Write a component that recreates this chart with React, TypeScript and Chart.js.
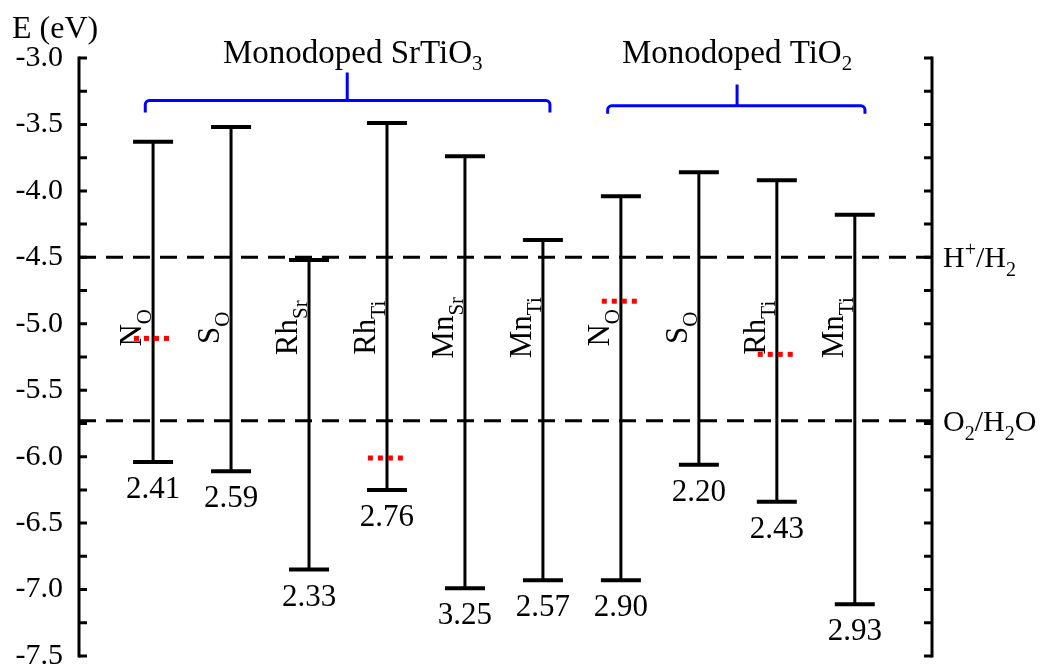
import { useEffect, useRef } from 'react';
import { Chart, registerables } from 'chart.js';

Chart.register(...registerables);

// ---------- data ----------
const categoryMain = ['N', 'S', 'Rh', 'Rh', 'Mn', 'Mn', 'N', 'S', 'Rh', 'Mn'];
const categorySub = ['O', 'O', 'Sr', 'Ti', 'Sr', 'Ti', 'O', 'O', 'Ti', 'Ti'];
const cbm = [-3.63, -3.52, -4.52, -3.49, -3.74, -4.37, -4.04, -3.86, -3.92, -4.18];
const vbm = [-6.04, -6.11, -6.85, -6.25, -6.99, -6.93, -6.93, -6.06, -6.34, -7.11];
const gapLabels = ['2.41', '2.59', '2.33', '2.76', '3.25', '2.57', '2.90', '2.20', '2.43', '2.93'];

const defectIndex = [0, 3, 6, 8];
const defectLevel = [-5.11, -6.01, -4.83, -5.23];

const redoxLevels = [-4.5, -5.73];
const redoxLabels = [
  [{ t: 'H', s: 30 }, { t: '+', s: 20, dy: -11 }, { t: '/H', s: 30 }, { t: '2', s: 20, dy: 9 }],
  [{ t: 'O', s: 30 }, { t: '2', s: 20, dy: 9 }, { t: '/H', s: 30 }, { t: '2', s: 20, dy: 9 }, { t: 'O', s: 30 }],
];

const groupTitles = [
  [{ t: 'Monodoped SrTiO', s: 33 }, { t: '3', s: 21, dy: 7 }],
  [{ t: 'Monodoped TiO', s: 33 }, { t: '2', s: 21, dy: 7 }],
];
const groupTitleX = [2.56, 7.49];
const groupTitleY = -3.04;
const braceFrom = [-0.1, 5.83];
const braceTo = [5.09, 9.13];
const braceMid = [2.49, 7.49];
const braceLevel = [-3.32, -3.36];
const braceEnd = [-3.41, -3.42];
const braceTop = [-3.11, -3.2];

const yMin = -7.5;
const yMax = -3.0;
const yStep = 0.5;
const yMinorStep = 0.25;
const xMin = -0.95;
const xMax = 9.99;
const labelCenterLevel = -5.03;

const FONT = '"Liberation Serif", "Times New Roman", serif';

type Part = { t: string; s: number; dy?: number };

function drawRich(ctx: CanvasRenderingContext2D, parts: Part[], x: number, y: number, align: string) {
  let total = 0;
  for (const p of parts) {
    ctx.font = `${p.s}px ${FONT}`;
    total += ctx.measureText(p.t).width;
  }
  let cx = align === 'center' ? x - total / 2 : align === 'right' ? x - total : x;
  ctx.textAlign = 'left';
  ctx.textBaseline = 'alphabetic';
  for (const p of parts) {
    ctx.font = `${p.s}px ${FONT}`;
    ctx.fillText(p.t, cx, y + (p.dy || 0));
    cx += ctx.measureText(p.t).width;
  }
}

const decorPlugin = {
  id: 'decor',
  afterDraw(chart: any) {
    const ctx: CanvasRenderingContext2D = chart.ctx;
    const xs = chart.scales.x;
    const ys = chart.scales.y;
    const area = chart.chartArea;
    ctx.save();
    ctx.fillStyle = '#000';
    ctx.strokeStyle = '#000';

    // axes lines
    ctx.lineWidth = 3;
    ctx.beginPath();
    ctx.moveTo(area.left, area.top - 1.5);
    ctx.lineTo(area.left, area.bottom + 1.5);
    ctx.moveTo(area.right, area.top - 1.5);
    ctx.lineTo(area.right, area.bottom + 1.5);
    ctx.stroke();
    // inward ticks
    const n = Math.round((yMax - yMin) / yMinorStep);
    ctx.beginPath();
    for (let i = 0; i <= n; i++) {
      const py = ys.getPixelForValue(yMin + i * yMinorStep);
      ctx.moveTo(area.left, py);
      ctx.lineTo(area.left + 8, py);
      ctx.moveTo(area.right, py);
      ctx.lineTo(area.right - 8, py);
    }
    ctx.stroke();

    // axis title
    drawRich(ctx, [{ t: 'E (eV)', s: 32 }], 12, 38, 'left');

    // vertical category labels
    for (let i = 0; i < categoryMain.length; i++) {
      const px = xs.getPixelForValue(i);
      const py = ys.getPixelForValue(labelCenterLevel);
      ctx.save();
      ctx.translate(px - 12, py);
      ctx.rotate(-Math.PI / 2);
      drawRich(ctx, [{ t: categoryMain[i], s: 31 }, { t: categorySub[i], s: 21, dy: 10 }], 0, 0, 'center');
      ctx.restore();
    }

    // gap values
    for (let i = 0; i < gapLabels.length; i++) {
      const px = xs.getPixelForValue(i);
      const py = ys.getPixelForValue(vbm[i]);
      drawRich(ctx, [{ t: gapLabels[i], s: 31 }], px, py + 36, 'center');
    }

    // redox labels
    for (let i = 0; i < redoxLevels.length; i++) {
      const py = ys.getPixelForValue(redoxLevels[i]);
      drawRich(ctx, redoxLabels[i] as Part[], area.right + 11, py + 10, 'left');
    }

    // group titles
    for (let i = 0; i < groupTitles.length; i++) {
      drawRich(ctx, groupTitles[i] as Part[], xs.getPixelForValue(groupTitleX[i]), ys.getPixelForValue(groupTitleY), 'center');
    }

    // braces
    ctx.strokeStyle = '#0000FF';
    ctx.lineWidth = 3;
    ctx.lineJoin = 'round';
    for (let i = 0; i < braceFrom.length; i++) {
      const x1 = xs.getPixelForValue(braceFrom[i]);
      const x2 = xs.getPixelForValue(braceTo[i]);
      const xm = xs.getPixelForValue(braceMid[i]);
      const yh = ys.getPixelForValue(braceLevel[i]);
      const ye = ys.getPixelForValue(braceEnd[i]);
      const yt = ys.getPixelForValue(braceTop[i]);
      const r = 4;
      ctx.beginPath();
      ctx.moveTo(x1, ye);
      ctx.lineTo(x1, yh + r);
      ctx.arcTo(x1, yh, x1 + r, yh, r);
      ctx.lineTo(x2 - r, yh);
      ctx.arcTo(x2, yh, x2, yh + r, r);
      ctx.lineTo(x2, ye);
      ctx.moveTo(xm, yh);
      ctx.lineTo(xm, yt);
      ctx.stroke();
    }
    ctx.restore();
  },
};

function buildDatasets() {
  const ds: any[] = [];
  // defect levels (drawn on top)
  defectIndex.forEach((idx, k) => {
    ds.push({
      label: 'defect' + k,
      data: [
        { x: idx - 0.245, y: defectLevel[k] },
        { x: idx + 0.245, y: defectLevel[k] },
      ],
      showLine: true,
      borderColor: '#FF0000',
      borderWidth: 5,
      borderDash: [5, 5],
      pointRadius: 0,
      clip: false,
    });
  });
  // band edges
  for (let i = 0; i < cbm.length; i++) {
    ds.push({
      label: categoryMain[i] + categorySub[i],
      data: [
        { x: i, y: cbm[i] },
        { x: i, y: vbm[i] },
      ],
      showLine: true,
      borderColor: '#000',
      borderWidth: 3,
      pointStyle: 'line',
      pointRadius: 20,
      pointBorderWidth: 4,
      pointBorderColor: '#000',
      pointBackgroundColor: '#000',
      clip: false,
    });
  }
  // redox potentials
  redoxLevels.forEach((lv, k) => {
    ds.push({
      label: 'redox' + k,
      data: [
        { x: xMin, y: lv },
        { x: xMax, y: lv },
      ],
      showLine: true,
      borderColor: '#000',
      borderWidth: 3,
      borderDash: [17, 10],
      pointRadius: 0,
      clip: false,
    });
  });
  return ds;
}

export default function App() {
  const ref = useRef<HTMLCanvasElement>(null);
  useEffect(() => {
    document.body.style.margin = '0';
    const chart = new Chart(ref.current as HTMLCanvasElement, {
      type: 'scatter',
      data: { datasets: buildDatasets() },
      options: {
        animation: false,
        responsive: false,
        events: [],
        layout: { autoPadding: false, padding: { left: 0, top: 58, right: 117, bottom: 13 } },
        plugins: { legend: { display: false }, tooltip: { enabled: false } },
        scales: {
          x: { type: 'linear', min: xMin, max: xMax, display: false },
          y: {
            type: 'linear',
            position: 'left',
            min: yMin,
            max: yMax,
            grid: { display: false, drawTicks: false },
            border: { display: false },
            ticks: {
              stepSize: yStep,
              autoSkip: false,
              padding: 16,
              color: '#000',
              font: { family: FONT, size: 30 },
              callback: (v: any) => Number(v).toFixed(1),
            },
            afterFit: (scale: any) => {
              scale.width = 79;
              scale.paddingTop = 0;
              scale.paddingBottom = 0;
            },
          },
        },
      },
      plugins: [decorPlugin],
    } as any);
    return () => chart.destroy();
  }, []);
  return (
    <div style={{ position: 'absolute', left: 0, top: 0, width: 1049, height: 669, background: '#fff' }}>
      <canvas ref={ref} width={1049} height={669} style={{ display: 'block' }} />
    </div>
  );
}
